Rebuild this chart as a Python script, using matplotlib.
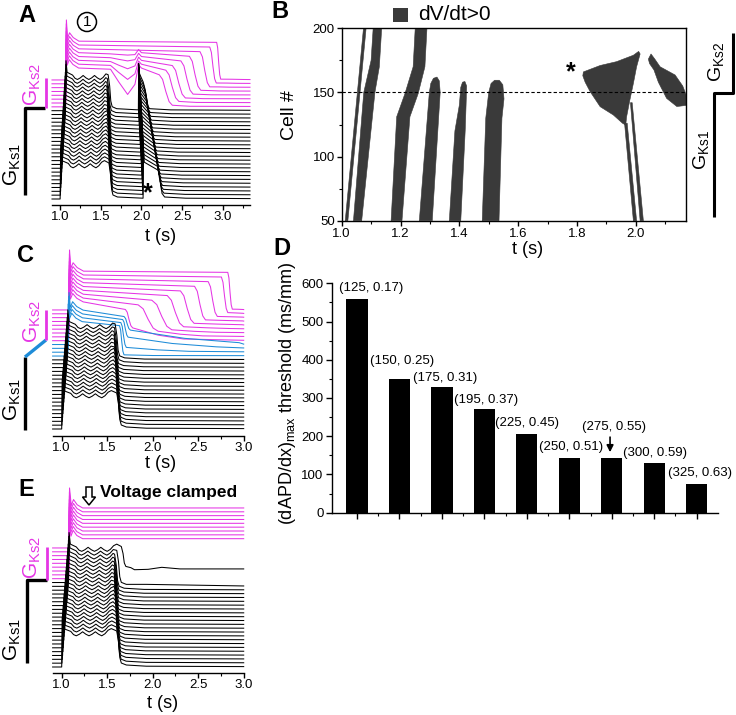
import numpy as np
import matplotlib
matplotlib.use('Agg')
import matplotlib.pyplot as plt
from matplotlib.lines import Line2D
from matplotlib.patches import Polygon, Rectangle, Ellipse

plt.rcParams['font.family'] = ['Liberation Sans', 'DejaVu Sans']
plt.rcParams['mathtext.default'] = 'regular'

# ======================= DATA =======================
# --- action-potential waveform templates (mV above rest) ---
OSC_T = [1.10, 1.13, 1.16, 1.195, 1.23, 1.265, 1.30, 1.335, 1.37, 1.405, 1.44, 1.475, 1.51, 1.545]
OSC_V = [89, 81, 78, 82, 88, 82, 78, 82, 88, 82, 78, 83, 92, 96]
SPIKE_DT = [0.0, 0.006, 0.02]
SPIKE_V_BLACK = [0, 125, 96]
REPOL_DT = [-0.025, -0.006, 0.008, 0.025, 0.08]
REPOL_V = [90, 62, 24, 10, 5]
AP2_DT_UP = [0.0, 0.005, 0.015]
AP2_V_UP = [2, 118, 92]
AP2_DT_DN = [-0.04, -0.012, 0.008, 0.04]
AP2_V_DN = [72, 50, 14, 5]
DOME_DT = [0.0, 0.006, 0.02, 0.045, 0.09, 0.16]
SPIKE_MAG = 150
PLATEAU_MAG = 97

# --- panel A (32 traces: 24 G_Ks1 black, 8 G_Ks2 magenta) ---
A_UP = [1.000, 1.003, 1.006, 1.009, 1.012, 1.015, 1.017, 1.020, 1.023, 1.026, 1.029, 1.032,
        1.035, 1.038, 1.041, 1.044, 1.046, 1.049, 1.052, 1.055, 1.058, 1.061, 1.064, 1.066,
        1.067, 1.068, 1.068, 1.069, 1.069, 1.070, 1.070, 1.071]
A_R1 = [1.625, 1.624, 1.622, 1.621, 1.620, 1.618, 1.617, 1.616, 1.614, 1.613, 1.612, 1.610,
        1.609, 1.608, 1.606, 1.605, 1.604, 1.602, 1.601, 1.600, 1.598, 1.600, 1.605, 1.615]
A_U2 = [2.020, 2.017, 2.015, 2.012, 2.010, 2.007, 2.005, 2.002, 2.000, 1.997, 1.995, 1.992,
        1.990, 1.987, 1.985, 1.982, 1.980, 1.977, 1.975, 1.972, 1.970, 1.967, 1.965, 1.962]
A_R2 = [2.245, 2.237, 2.229, 2.221, 2.213, 2.205, 2.197, 2.189, 2.181, 2.173, 2.165, 2.157,
        2.149, 2.141, 2.133, 2.125, 2.117, 2.109, 2.101, 2.093, 2.085, 2.077, 2.069, 2.061]
A_MAG_R = [2.30, 2.38, 2.46, 2.56, 2.66, 2.78, 2.88, 2.95]
A_MAG_DUR = [0.16, 0.16, 0.16, 0.15, 0.14, 0.12, 0.08, 0.05]
A_MAG_DIP = [63, 35, 18, 8, 3, 0, 0, 0]
A_MAG_PEND = [80, 82, 84, 86, 88, 90, 92, 94]
A_MAG_TAIL = [4, 4, 3, 3, 3, 2, 2, 2]

# --- panel C (19 black, 4 blue, 9 magenta) ---
CE_UP = [1.000, 1.003, 1.007, 1.010, 1.014, 1.017, 1.020, 1.024, 1.027, 1.031, 1.034, 1.037,
         1.041, 1.044, 1.048, 1.051, 1.054, 1.058, 1.061, 1.065, 1.068, 1.071, 1.075,
         1.076, 1.076, 1.077, 1.077, 1.078, 1.078, 1.079, 1.079, 1.080]
C_R_BLACK = [1.630, 1.628, 1.626, 1.624, 1.622, 1.620, 1.618, 1.616, 1.614, 1.612, 1.610,
             1.608, 1.606, 1.604, 1.602, 1.600, 1.600, 1.605, 1.612]
C_BLUE_R = [1.66, 1.68, 1.70, 1.72]
C_BLUE_DUR = [0.05, 0.06, 0.06, 0.07]
C_BLUE_PEND = [76, 74, 72, 70]
C_BLUE_TAIL = [3, 12, 28, 36]
C_BLUE_TAILEND = [2.0, 2.4, 2.7, 2.95]
C_MAG_R = [1.74, 1.95, 2.10, 2.25, 2.38, 2.52, 2.66, 2.79, 2.85]
C_MAG_DUR = [0.08, 0.22, 0.22, 0.18, 0.15, 0.12, 0.10, 0.07, 0.05]
C_MAG_PEND = [78, 80, 82, 84, 86, 88, 90, 92, 94]
C_MAG_TAIL = [32, 14, 8, 6, 5, 4, 3, 3, 2]

# --- panel E (23 black, 9 magenta voltage clamped) ---
E_R = [1.630, 1.628, 1.626, 1.624, 1.622, 1.620, 1.618, 1.616, 1.614, 1.612, 1.610, 1.608,
       1.606, 1.604, 1.602, 1.600, 1.600, 1.601, 1.602, 1.604, 1.606, 1.630, 1.680]
E_TAIL = [2, 2, 2, 2, 2, 2, 2, 2, 2, 2, 2, 2, 2, 2, 2, 2, 2, 2, 2, 2, 2, 5, 34]
E_TOPTAIL_T = [1.80, 1.95, 2.10, 2.30, 3.00]
E_TOPTAIL_V = [32, 33, 38, 34, 34]
E_CLAMP = [100, 100, 100, 100, 100, 100, 100, 100, 100]

# --- panel B: regions with dV/dt>0 (t [s], cell #) ---
B_THIN1 = [(1.012, 50), (1.021, 50), (1.083, 200), (1.074, 200)]
B_BAND1 = [(1.040, 50), (1.075, 150), (1.100, 175), (1.107, 200), (1.136, 200), (1.128, 170),
           (1.113, 150), (1.068, 50)]
B_BAND2 = [(1.168, 50), (1.187, 131), (1.215, 149), (1.243, 170), (1.250, 200), (1.290, 200),
           (1.283, 170), (1.260, 149), (1.232, 131), (1.205, 50)]
B_BAND3 = [(1.264, 50), (1.298, 150), (1.303, 157), (1.312, 161), (1.324, 162), (1.332, 159),
           (1.335, 150), (1.308, 50)]
B_BAND4 = [(1.366, 50), (1.385, 120), (1.400, 140), (1.405, 154), (1.411, 158), (1.419, 158.5),
           (1.425, 155), (1.423, 140), (1.420, 120), (1.405, 50)]
B_BAND5 = [(1.478, 50), (1.490, 130), (1.500, 150), (1.508, 157), (1.520, 159.5), (1.536, 159.5),
           (1.548, 156), (1.552, 145), (1.545, 130), (1.535, 50)]
B_STAR = [(1.822, 166), (1.879, 171), (1.935, 174), (1.992, 179), (2.010, 182), (2.015, 180),
          (2.003, 170), (1.992, 157), (1.980, 144), (1.969, 131), (1.966, 124.5), (1.955, 126),
          (1.924, 132.4), (1.879, 138.9), (1.845, 150.6), (1.828, 158), (1.820, 163)]
B_STRIPE1 = [(1.962, 126), (1.971, 126), (2.003, 50), (1.992, 50)]
B_STRIPE2 = [(1.982, 142), (1.988, 142), (2.026, 50), (2.015, 50)]
B_RIGHT = [(2.043, 176), (2.052, 180), (2.065, 176), (2.083, 170), (2.134, 163.6), (2.160, 155),
           (2.175, 146), (2.175, 140), (2.140, 139), (2.105, 145.4), (2.077, 158),
           (2.062, 167.5), (2.047, 172.5)]
B_BORDER_CELL = 150

# --- panel D ---
D_VALUES = [558, 350, 329, 272, 207, 143, 143, 129, 76]
D_LABELS = ['(125, 0.17)', '(150, 0.25)', '(175, 0.31)', '(195, 0.37)', '(225, 0.45)',
            '(250, 0.51)', '(275, 0.55)', '(300, 0.59)', '(325, 0.63)']

T_MAJOR = [1.0, 1.5, 2.0, 2.5, 3.0]
T_MAJOR_LBL = ['1.0', '1.5', '2.0', '2.5', '3.0']
T_MINOR = [1.25, 1.75, 2.25, 2.75, 3.25]

# ======================= STYLE / LAYOUT =======================
MAG = '#E535E5'
BLUE = '#1E8CD8'
GRAY = '#3A3A3A'
W, H = 736, 715
PX_PER_MV = 0.4
OFFSET = 9.6
X0 = 0.9
LW = 0.75

fig = plt.figure(figsize=(W / 100, H / 100), dpi=100)


def rect(x0, y0, x1, y1):
    return [x0 / W, 1 - y1 / H, (x1 - x0) / W, (y1 - y0) / H]


def ftxt(x, y, s, **kw):
    kw.setdefault('ha', 'center')
    kw.setdefault('va', 'center')
    fig.text(x / W, 1 - y / H, s, **kw)


def fline(xs, ys, **kw):
    fig.add_artist(Line2D([x / W for x in xs], [1 - y / H for y in ys],
                          transform=fig.transFigure, solid_capstyle='butt', **kw))


def trace_axes(px0, py0, px1, py1, xend, gap, tsize):
    ax = fig.add_axes(rect(px0, py0, px1, py1))
    ax.set_xlim(X0, xend)
    ax.set_ylim(-gap / PX_PER_MV, (py1 - py0 - gap) / PX_PER_MV)
    for s in ['left', 'right', 'top']:
        ax.spines[s].set_visible(False)
    ax.spines['bottom'].set_linewidth(1.0)
    ax.set_yticks([])
    ax.set_xticks(T_MAJOR)
    ax.set_xticklabels(T_MAJOR_LBL)
    ax.set_xticks([m for m in T_MINOR if m < xend], minor=True)
    ax.tick_params(axis='x', which='major', direction='out', length=3.5, width=1,
                   labelsize=tsize, pad=1)
    ax.tick_params(axis='x', which='minor', direction='out', length=2.5, width=0.8)
    ax.patch.set_alpha(0)
    return ax


def first_ap(u, r, tail=0.0):
    shift = (u - 1.0) * 0.8
    t = [X0] + [u + d for d in SPIKE_DT]
    v = [0] + list(SPIKE_V_BLACK)
    for tt, vv in zip(OSC_T, OSC_V):
        tt = tt + shift
        if u + 0.03 < tt < r - 0.03:
            t.append(tt)
            v.append(vv)
    for d, vv in zip(REPOL_DT, REPOL_V):
        t.append(r + d)
        v.append(tail + vv * (90 - tail) / 90.0)
    return t, v


def plateau_ap(u, r, dur, pend, tail, tail_end, xend, spk=SPIKE_MAG, p0=PLATEAU_MAG, dip=0):
    t = [X0] + [u + d for d in DOME_DT]
    v = [0, 0, spk, p0 + 7, p0 + 21, p0 + 9, p0]
    if dip > 0:
        t += [1.62, 1.72, 1.83, 1.92, 1.965, 2.0]
        v += [p0 - 3, p0 - 3 - 0.5 * dip, p0 - 3 - dip, p0 - 3 - 0.6 * dip, p0 + 8, p0]
    t += [r - dur * 0.5, r - dur * 0.25, r, r + dur * 0.25, r + dur * 0.5]
    v += [pend, tail + (pend - tail) * 0.85, tail + (pend - tail) * 0.45,
          tail + (pend - tail) * 0.12, tail]
    te = min(max(tail_end, r + dur * 0.5 + 0.04), xend - 0.01)
    mid = (r + dur * 0.5 + te) / 2
    t += [mid, te, xend]
    v += [tail * 0.4 + 1, tail * 0.1 + 1, 1]
    return t, v


def draw(ax, i, t, v, color):
    ax.plot(t, np.asarray(v) + i * OFFSET, color=color, lw=LW, clip_on=False,
            solid_joinstyle='round')


# ---------------- Panel A ----------------
A_XEND = 3.335
axA = trace_axes(52, 10, 250, 205, A_XEND, 6, 9.5)
nA_black = len(A_R1)
for i in range(len(A_UP) - 1, -1, -1):
    u = A_UP[i]
    if i < nA_black:
        t, v = first_ap(u, A_R1[i])
        t += [A_U2[i] + d for d in AP2_DT_UP]
        v += list(AP2_V_UP)
        t += [A_R2[i] + d for d in AP2_DT_DN]
        v += list(AP2_V_DN)
        t += [A_R2[i] + 0.3, A_XEND]
        v += [2, 1]
        draw(axA, i, t, v, 'black')
    else:
        k = i - nA_black
        t, v = plateau_ap(u, A_MAG_R[k], A_MAG_DUR[k], A_MAG_PEND[k], A_MAG_TAIL[k],
                          A_MAG_R[k] + 0.3, A_XEND, dip=A_MAG_DIP[k])
        draw(axA, i, t, v, MAG)

# ---------------- Panel C ----------------
C_XEND = 3.0
axC = trace_axes(52.6, 240, 243.7, 436, C_XEND, 7, 9.5)
nCb = len(C_R_BLACK)
nCblue = len(C_BLUE_R)
for i in range(len(CE_UP) - 1, -1, -1):
    u = CE_UP[i]
    if i < nCb:
        t, v = first_ap(u, C_R_BLACK[i])
        t += [C_R_BLACK[i] + 0.3, C_XEND]
        v += [2, 1]
        draw(axC, i, t, v, 'black')
    elif i < nCb + nCblue:
        k = i - nCb
        t, v = plateau_ap(u, C_BLUE_R[k], C_BLUE_DUR[k], C_BLUE_PEND[k], C_BLUE_TAIL[k],
                          C_BLUE_TAILEND[k], C_XEND, spk=130, p0=86)
        draw(axC, i, t, v, BLUE)
    else:
        k = i - nCb - nCblue
        t, v = plateau_ap(u, C_MAG_R[k], C_MAG_DUR[k], C_MAG_PEND[k], C_MAG_TAIL[k],
                          C_MAG_R[k] + 0.6, C_XEND)
        draw(axC, i, t, v, MAG)

# ---------------- Panel E ----------------
axE = trace_axes(52.6, 477, 243.7, 673, C_XEND, 6, 9.5)
nEb = len(E_R)
for i in range(len(CE_UP) - 1, -1, -1):
    u = CE_UP[i]
    if i < nEb:
        t, v = first_ap(u, E_R[i], tail=E_TAIL[i] if E_TAIL[i] > 10 else 0.0)
        if E_TAIL[i] > 10:
            t += list(E_TOPTAIL_T)
            v += list(E_TOPTAIL_V)
        else:
            t += [E_R[i] + 0.3, C_XEND]
            v += [E_TAIL[i], 1]
        draw(axE, i, t, v, 'black')
    else:
        k = i - nEb
        c = E_CLAMP[k]
        t = [X0, u, u + 0.006, u + 0.025, u + 0.05, u + 0.09, 1.23, C_XEND]
        v = [0, 0, SPIKE_MAG, c + 6, c + 21, c + 8, c, c]
        draw(axE, i, t, v, MAG)

# ---------------- Panel B ----------------
axB = fig.add_axes(rect(341.7, 28.3, 686, 220.7))
axB.set_xlim(1.0, 2.171)
axB.set_ylim(50, 200)
for poly in [B_THIN1, B_BAND1, B_BAND2, B_BAND3, B_BAND4, B_BAND5, B_STAR, B_STRIPE1,
             B_STRIPE2, B_RIGHT]:
    axB.add_patch(Polygon(poly, closed=True, facecolor=GRAY, edgecolor=GRAY, lw=0.4))
axB.axhline(B_BORDER_CELL, color='black', lw=0.8, ls=(0, (3, 2)))
axB.set_xticks([1.0, 1.2, 1.4, 1.6, 1.8, 2.0])
axB.set_xticklabels(['1.0', '1.2', '1.4', '1.6', '1.8', '2.0'])
axB.set_xticks([1.1, 1.3, 1.5, 1.7, 1.9, 2.1], minor=True)
axB.set_yticks([50, 100, 150, 200])
axB.set_yticks([75, 125, 175], minor=True)
axB.tick_params(which='major', direction='out', length=3.5, width=1, labelsize=9.5, pad=1.5)
axB.tick_params(which='minor', direction='out', length=2.5, width=0.8)
for s in axB.spines.values():
    s.set_linewidth(1.0)
axB.text(1.78, 166, '*', fontsize=18, fontweight='bold', ha='center', va='center')

# ---------------- Panel D ----------------
axD = fig.add_axes(rect(332, 283.3, 718.3, 512.7))
xd = np.arange(len(D_VALUES))
axD.bar(xd, D_VALUES, width=0.5, color='black')
axD.set_xlim(-0.59, len(D_VALUES) - 0.49)
axD.set_ylim(0, 600)
axD.set_yticks(np.arange(0, 601, 100))
axD.set_yticks(np.arange(50, 600, 100), minor=True)
axD.set_xticks(xd)
axD.set_xticks(xd[:-1] + 0.5, minor=True)
axD.set_xticklabels([])
axD.tick_params(which='major', direction='out', length=4, width=1, labelsize=9.5, pad=2)
axD.tick_params(which='minor', direction='out', length=2.5, width=0.8)
for s in ['top', 'right']:
    axD.spines[s].set_visible(False)
for s in ['left', 'bottom']:
    axD.spines[s].set_linewidth(1.0)
lbl_dx = [0.32, 0.05, 0.08, 0.05, 0.0, 0.03, 0.06, 0.03, 0.08]
lbl_dy = [30, 47, 23, 23, 28, 28, 80, 28, 27]
for k, (val, lab) in enumerate(zip(D_VALUES, D_LABELS)):
    axD.text(k + lbl_dx[k], val + lbl_dy[k], lab, fontsize=9.5, ha='center', va='center',
             clip_on=False)
axD.annotate('', xy=(6 - 0.04, D_VALUES[6] + 8), xytext=(6 - 0.04, D_VALUES[6] + 62),
             arrowprops=dict(arrowstyle='-|>', color='black', lw=1.2, mutation_scale=10))
ftxt(288, 393, '(dAPD/dx)$_{max}$ threshold (ms/mm)', fontsize=13, rotation=90)

# ---------------- text, labels, schematics ----------------
for lab, x, y in [('A', 27, 16), ('B', 280, 12), ('C', 25, 255), ('D', 282, 249), ('E', 26, 490)]:
    ftxt(x, y, lab, fontsize=17, fontweight='bold')

ftxt(161, 236, 't (s)', fontsize=13)
ftxt(161, 463, 't (s)', fontsize=13)
ftxt(163, 704, 't (s)', fontsize=13)
ftxt(528, 250, 't (s)', fontsize=13)
ftxt(289, 115, 'Cell #', fontsize=14, rotation=90)

# legend of B
fig.add_artist(Rectangle((393 / W, 1 - 22 / H), 15 / W, 14 / H, transform=fig.transFigure,
                         facecolor=GRAY, edgecolor='none'))
ftxt(418, 15, 'dV/dt>0', fontsize=15, ha='left')

# circled 1
fig.add_artist(Ellipse((87 / W, 1 - 22 / H), 19 / W, 19 / H, transform=fig.transFigure,
                       facecolor='white', edgecolor='black', lw=1.1))
ftxt(87, 22.5, '1', fontsize=11)
# asterisk in A
ftxt(148, 193, '*', fontsize=18, fontweight='bold')

# voltage clamped
arrow_px = [(86, 487), (92, 487), (92, 497), (95.5, 497), (89, 505), (82.5, 497), (86, 497)]
fig.add_artist(Polygon([(x / W, 1 - y / H) for x, y in arrow_px], closed=True,
                       transform=fig.transFigure, facecolor='white', edgecolor='black', lw=1.1))
ftxt(100, 493, 'Voltage clamped', fontsize=12.5, fontweight='bold', ha='left')

# schematics
fline([25, 25, 45], [195, 108, 108], color='black', lw=2.4)
fline([46, 46], [108, 78], color=MAG, lw=2.0)
ftxt(12, 165, 'G$_{Ks1}$', fontsize=15, rotation=90)
ftxt(32, 85, 'G$_{Ks2}$', fontsize=15, rotation=90, color=MAG)

fline([25, 25], [430, 357], color='black', lw=2.4)
fline([25, 46], [357, 340], color=BLUE, lw=2.4)
fline([46, 46], [340, 310], color=MAG, lw=2.0)
ftxt(12, 400, 'G$_{Ks1}$', fontsize=15, rotation=90)
ftxt(32, 322, 'G$_{Ks2}$', fontsize=15, rotation=90, color=MAG)

fline([27, 27, 47], [663, 580, 580], color='black', lw=2.4)
fline([47, 47], [580, 547], color=MAG, lw=2.0)
ftxt(12, 640, 'G$_{Ks1}$', fontsize=15, rotation=90)
ftxt(32, 558, 'G$_{Ks2}$', fontsize=15, rotation=90, color=MAG)

fline([714, 714, 733, 733], [217, 93, 93, 33], color='black', lw=2.2)
ftxt(701, 150, 'G$_{Ks1}$', fontsize=14, rotation=90)
ftxt(716, 62, 'G$_{Ks2}$', fontsize=14, rotation=90)

fig.savefig('out.png', dpi=100)
